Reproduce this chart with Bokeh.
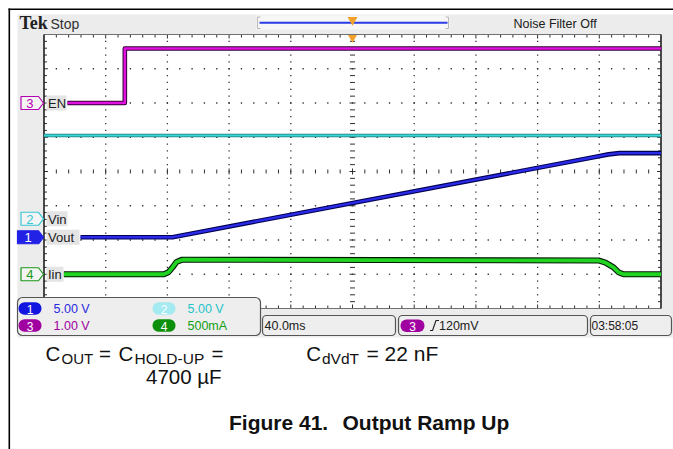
import numpy as np
from bokeh.plotting import figure
from bokeh.models import Range1d, Label
from bokeh.embed import file_html
from bokeh.resources import INLINE

# ---------------- data ----------------
# horizontal: 40 ms/div, time measured from the left edge of the graticule
ms_per_div = 40.0
# CH3  EN   (1.00 V/div)
en_t = [15.2, 52.4, 52.4, 400.0]
en_v = [0.0, 0.0, 1.59, 1.59]
# CH2  Vin  (5.00 V/div)
vin_t = [0.0, 400.0]
vin_v = [12.15, 12.15]
# CH1  Vout (5.00 V/div)
vout_t = [23.7, 83.3, 358.0, 366.0, 373.0, 400.0]
vout_v = [0.0, 0.0, 11.75, 12.1, 12.28, 12.28]
# CH4  Iin  (500 mA/div)
iin_t = [12.8, 77.7, 80.7, 83.3, 85.9, 89.6, 359.5, 364.0, 369.2, 372.4, 375.7, 400.0]
iin_a = [0.0, 0.0, 0.03, 0.10, 0.18, 0.213, 0.201, 0.17, 0.10, 0.03, 0.0, 0.0]

ch_num = ["1", "2", "3", "4"]
ch_name = ["Vout", "Vin", "EN", "Iin"]
ch_per_div = [5.0, 5.0, 1.0, 0.5]
ch_scale_text = ["5.00 V", "5.00 V", "1.00 V", "500mA"]
ch_offset_div = [-1.92, -1.38, 2.0, -3.0]
timebase_text = "40.0ms"
trigger_text = "120mV"
clock_text = "03:58:05"
status_text = "Stop"
filter_text = "Noise Filter Off"

# ---------------- layout (page pixel coordinates) ----------------
W, H = 673, 449
GX0, GX1, GY0, GY1 = 43.5, 660.5, 34.0, 308.0   # graticule
dx = (GX1 - GX0) / 10.0
dy = (GY1 - GY0) / 8.0
GXC = (GX0 + GX1) / 2
GYC = (GY0 + GY1) / 2

FONT = "Liberation Sans"
SCOPE = "Liberation Sans"

p = figure(width=W, height=H, x_range=Range1d(0, W), y_range=Range1d(H, 0),
           output_backend="svg", toolbar_location=None, min_border=0,
           x_axis_location=None, y_axis_location=None)
p.grid.visible = False
p.outline_line_color = None
p.background_fill_color = "white"
p.border_fill_color = "white"

# scales for the traces (library ranges mapped onto the graticule)
ms_per_px = ms_per_div / dx
p.extra_x_ranges = {"t": Range1d((0 - GX0) * ms_per_px, (W - GX0) * ms_per_px)}
ch_key = ["vout", "vin", "en", "iin"]
gnd_y = {}
for k, per, off in zip(ch_key, ch_per_div, ch_offset_div):
    g = GYC - off * dy
    gnd_y[k] = g
    p.extra_y_ranges[k] = Range1d((g - H) / dy * per, (g - 0) / dy * per)


def lab(x, y, t, size, color="#202020", font=SCOPE, bold=False, align="left"):
    p.add_layout(Label(x=x, y=y, text=t, text_font=font, text_font_size=f"{size}px",
                       text_font_style="bold" if bold else "normal", text_color=color,
                       text_align=align, text_baseline="middle"))


# document frame lines
p.segment(x0=[8.8, 8], y0=[8, 8.8], x1=[8.8, W], y1=[H, 8.8], line_color="black", line_width=1.6)

# scope screen background
p.quad(left=17, right=673, top=14, bottom=337, fill_color="#ececec", line_color=None)
# record bar
p.quad(left=256, right=449, top=15, bottom=29, fill_color="#f7f7f7", line_color=None)
p.segment(x0=[257, 257, 257, 448, 448, 448], y0=[16.5, 16.5, 28, 16.5, 16.5, 28],
          x1=[257, 260, 260, 448, 445, 445], y1=[28, 16.5, 28, 28, 16.5, 28],
          line_color="#b8b8b8", line_width=1)
p.line(x=[259, 447], y=[22.3, 22.3], line_color="#2a3ce6", line_width=2)
p.scatter(x=[GXC], y=[19.5], marker="inverted_triangle", size=10, fill_color="#f2a22c", line_color=None)

# graticule
p.quad(left=GX0, right=GX1, top=GY0, bottom=GY1, fill_color="white", line_color=None)
dxs, dys = [], []
for k in range(1, 8):
    if k == 4:
        continue
    for j in range(1, 50):
        dxs.append(GX0 + j * dx / 5); dys.append(GY0 + k * dy)
for k in range(1, 10):
    if k == 5:
        continue
    for j in range(1, 40):
        dxs.append(GX0 + k * dx); dys.append(GY0 + j * dy / 5)
p.rect(x=dxs, y=dys, width=1.3, height=1.3, fill_color="#303030", line_color=None)

sx0, sy0, sx1, sy1 = [], [], [], []
for j in range(1, 50):
    x = GX0 + j * dx / 5
    L = 4 if j % 5 == 0 else 3
    sx0 += [x, x, x]; sx1 += [x, x, x]
    sy0 += [GY0, GY1 - L, GYC - (3 if j % 5 == 0 else 2)]
    sy1 += [GY0 + L, GY1, GYC + (3 if j % 5 == 0 else 2)]
for j in range(1, 40):
    y = GY0 + j * dy / 5
    L = 4 if j % 5 == 0 else 3
    sy0 += [y, y, y]; sy1 += [y, y, y]
    sx0 += [GX0, GX1 - L, GXC - (3 if j % 5 == 0 else 2.5)]
    sx1 += [GX0 + L, GX1, GXC + (3 if j % 5 == 0 else 2.5)]
p.segment(x0=sx0, y0=sy0, x1=sx1, y1=sy1, line_color="#303030", line_width=1)
p.segment(x0=[GX0, GX0], y0=[GY0, GY1], x1=[GX1, GX1], y1=[GY0, GY1], line_color="#707070", line_width=1)
p.segment(x0=[GX0, GX1], y0=[GY0, GY0], x1=[GX0, GX1], y1=[GY1, GY1], line_color="#202020", line_width=1.6)
p.scatter(x=[GXC], y=[37], marker="inverted_triangle", size=9, fill_color="#f2a22c", line_color=None)

# ---------------- traces ----------------
traces = [
    ("vin", vin_t, vin_v, "#1a7a7a", 3.6, "#3ad6d6", 2.0),
    ("en", en_t, en_v, "#300030", 4.6, "#e010e0", 2.6),
    ("vout", vout_t, vout_v, "#000050", 4.6, "#2a2ae8", 2.4),
    ("iin", iin_t, iin_a, "#001800", 6.0, "#22d422", 3.8),
]
for key, xs, ys, dark, wd, col, wc in traces:
    p.line(x=xs, y=ys, x_range_name="t", y_range_name=key, line_color=dark, line_width=wd, line_join="round")
    p.line(x=xs, y=ys, x_range_name="t", y_range_name=key, line_color=col, line_width=wc, line_join="round")

# ---------------- channel markers & names ----------------
ch_col = {"vout": "#2222e6", "vin": "#38c8d4", "en": "#b400b4", "iin": "#189818"}
name_w = {"vout": 33, "vin": 21, "en": 20, "iin": 17}
for key, num, name in zip(ch_key, ch_num, ch_name):
    g = gnd_y[key]
    L = 17 if key == "vout" else 20.5
    R = 43
    xs = [L, R - 5, R, R - 5, L]
    ys = [g - 6.5, g - 6.5, g, g + 6.5, g + 6.5]
    filled = key == "vout"
    p.patch(x=xs, y=ys, fill_color=ch_col[key] if filled else "#f4f4f4",
            line_color=ch_col[key], line_width=1.2)
    p.quad(left=46, right=46 + name_w[key], top=g - 7.5, bottom=g + 7.5, fill_color="#e4e4e4", line_color=None)
    lab((L + R - 5) / 2, g + 0.5, num, 13, "white" if filled else ch_col[key], align="center")
    lab(47.5, g + 0.5, name, 13)

# ---------------- readouts ----------------
box_fill, box_line = "#eeeeee", "#555555"
p.quad(left=17, right=260, top=297, bottom=335, fill_color=box_fill, line_color=box_line,
       line_width=1.2, border_radius=5)
for l, r in [(262, 395), (398, 587), (590, 671)]:
    p.quad(left=l, right=r, top=315, bottom=335, fill_color=box_fill, line_color=box_line,
           line_width=1.2, border_radius=4)

pill_col = {"1": "#1414e0", "2": "#a4eaf0", "3": "#a000a0", "4": "#0c900c"}
txt_col = {"1": "#2a2ae0", "2": "#22c4c8", "3": "#a000a0", "4": "#14a014"}
pos = {"1": (18, 308), "2": (152, 308), "3": (18, 325), "4": (152, 325)}
for num, stxt in zip(ch_num, ch_scale_text):
    x, y = pos[num]
    p.quad(left=x, right=x + 23, top=y - 6.3, bottom=y + 6.3, fill_color=pill_col[num],
           line_color=None, border_radius=6)
    lab(x + 11.5, y + 0.5, num, 12, "white", align="center")
    lab(x + 35, y + 0.5, stxt, 12.5, txt_col[num])

lab(264, 325.5, timebase_text, 12.5)
p.quad(left=400, right=424, top=319, bottom=331.5, fill_color=pill_col["3"], line_color=None, border_radius=6)
lab(412, 325.5, "3", 12, "white", align="center")
p.line(x=[429.5, 432, 435.5, 438.5], y=[330, 330, 320, 320], line_color="#202020", line_width=1.1)
lab(438.5, 325.5, trigger_text, 12.5)
lab(591, 325.5, clock_text, 12)

# top status texts
lab(19, 22, "Tek", 18, "#202020", font="Liberation Serif", bold=True)
lab(50, 23, status_text, 14, "#303030", font=FONT)
lab(513, 23.5, filter_text, 12.5)

# ---------------- caption texts ----------------
K = "#111111"
lab(45, 353.3, "C", 20.5, K, FONT)
lab(61, 357.6, "OUT", 15, K, FONT)
lab(98.5, 353.3, "=", 20.5, K, FONT)
lab(118, 353.3, "C", 20.5, K, FONT)
lab(134, 357.6, "HOLD-UP", 15.5, K, FONT)
lab(211, 353.3, "=", 20.5, K, FONT)
lab(145.5, 376.3, "4700 µF", 20.5, K, FONT)
lab(305.7, 353.3, "C", 20.5, K, FONT)
lab(321.5, 357.6, "dVdT", 15.5, K, FONT)
lab(366, 353.3, "= 22 nF", 21, K, FONT)
lab(228.5, 422.3, "Figure 41.", 21, K, FONT, bold=True)
lab(342, 422.3, "Output Ramp Up", 21, K, FONT, bold=True)

open("out.html", "w").write(file_html(p, INLINE))
